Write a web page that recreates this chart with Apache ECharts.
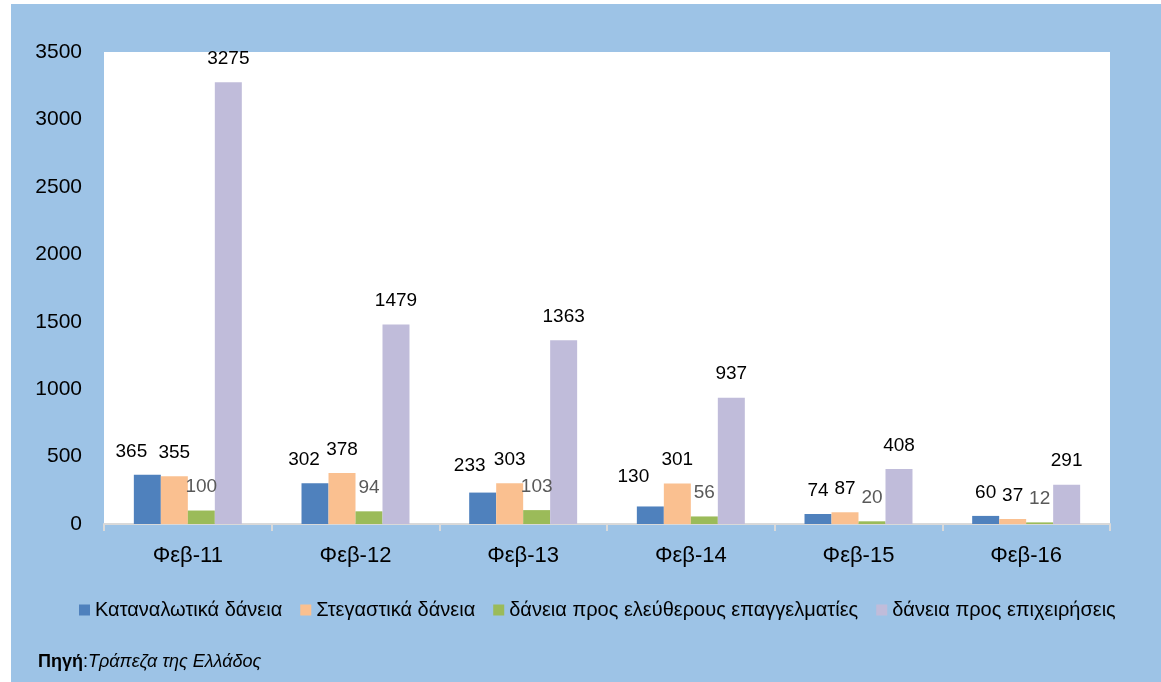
<!DOCTYPE html>
<html>
<head>
<meta charset="utf-8">
<script src="https://cdn.jsdelivr.net/npm/echarts@6/dist/echarts.min.js"></script>
<style>
  html, body { margin: 0; padding: 0; background: #ffffff; }
  #wrap { position: absolute; left: 11px; top: 4px; width: 1150px; height: 678px; background: #9DC3E6; }
  #chart { width: 1150px; height: 678px; }
</style>
</head>
<body>
<div id="wrap"><div id="chart"></div></div>
<script>
// ---- data ----
const categories = ['Φεβ-11', 'Φεβ-12', 'Φεβ-13', 'Φεβ-14', 'Φεβ-15', 'Φεβ-16'];
const seriesNames = ['Καταναλωτικά δάνεια', 'Στεγαστικά δάνεια', 'δάνεια προς ελεύθερους επαγγελματίες', 'δάνεια προς επιχειρήσεις'];
const consumerLoans = [365, 302, 233, 130, 74, 60];
const housingLoans = [355, 378, 303, 301, 87, 37];
const professionalLoans = [100, 94, 103, 56, 20, 12];
const businessLoans = [3275, 1479, 1363, 937, 408, 291];
const yTicks = [0, 500, 1000, 1500, 2000, 2500, 3000, 3500];

// ---- styling ----
const FONT = 'Liberation Sans';
const colors = ['#4F81BD', '#FAC090', '#9BBB59', '#C0BCDA'];
const labelColors = ['#000000', '#000000', '#595959', '#000000'];
// label nudges for the first series (as placed in the original)
const consumerLabelNudge = [[-16, 0], [-11, 0], [-13, -3], [-17, -6], [0, 0], [0, 0]];

const allValues = [consumerLoans, housingLoans, professionalLoans, businessLoans];

const series = allValues.map((vals, si) => ({
  name: seriesNames[si],
  type: 'bar',
  barGap: '0%',
  barCategoryGap: '35.6%',
  itemStyle: { color: colors[si] },
  label: {
    show: true,
    position: 'top',
    distance: 14,
    color: labelColors[si],
    fontFamily: FONT,
    fontSize: 19
  },
  data: vals.map((v, i) => {
    if (si === 0) {
      return { value: v, label: { offset: consumerLabelNudge[i] } };
    }
    return v;
  })
}));

const chart = echarts.init(document.getElementById('chart'), null, { renderer: 'canvas' });
chart.setOption({
  animation: false,
  backgroundColor: 'transparent',
  grid: {
    left: 93, right: 51, top: 48, bottom: 158,
    show: true, backgroundColor: '#ffffff', borderWidth: 0
  },
  xAxis: {
    type: 'category',
    data: categories,
    axisLine: { show: true, lineStyle: { color: '#D9D9D9', width: 2 } },
    axisTick: { show: true, alignWithLabel: false, length: 7, lineStyle: { color: '#D9D9D9', width: 2 } },
    axisLabel: { color: '#000', fontFamily: FONT, fontSize: 22, margin: 21 }
  },
  yAxis: {
    type: 'value',
    min: yTicks[0],
    max: yTicks[yTicks.length - 1],
    interval: yTicks[1] - yTicks[0],
    splitLine: { show: false },
    axisLine: { show: false },
    axisTick: { show: false },
    axisLabel: { color: '#000', fontFamily: FONT, fontSize: 21, margin: 22, formatter: v => String(v) }
  },
  legend: {
    data: seriesNames,
    left: 63,
    top: 591,
    itemWidth: 11,
    itemHeight: 11,
    itemGap: 18,
    icon: 'rect',
    textStyle: { color: '#000', fontFamily: FONT, fontSize: 20 }
  },
  graphic: [{
    type: 'text',
    left: 27,
    top: 649,
    style: {
      text: '{b|Πηγή}{n|:}{i|Τράπεζα της Ελλάδος}',
      rich: {
        b: { fontFamily: FONT, fontSize: 18, fontWeight: 'bold', fill: '#000' },
        n: { fontFamily: FONT, fontSize: 18, fill: '#000' },
        i: { fontFamily: FONT, fontSize: 18, fontStyle: 'italic', fill: '#000' }
      }
    }
  }],
  series: series
});
</script>
</body>
</html>
